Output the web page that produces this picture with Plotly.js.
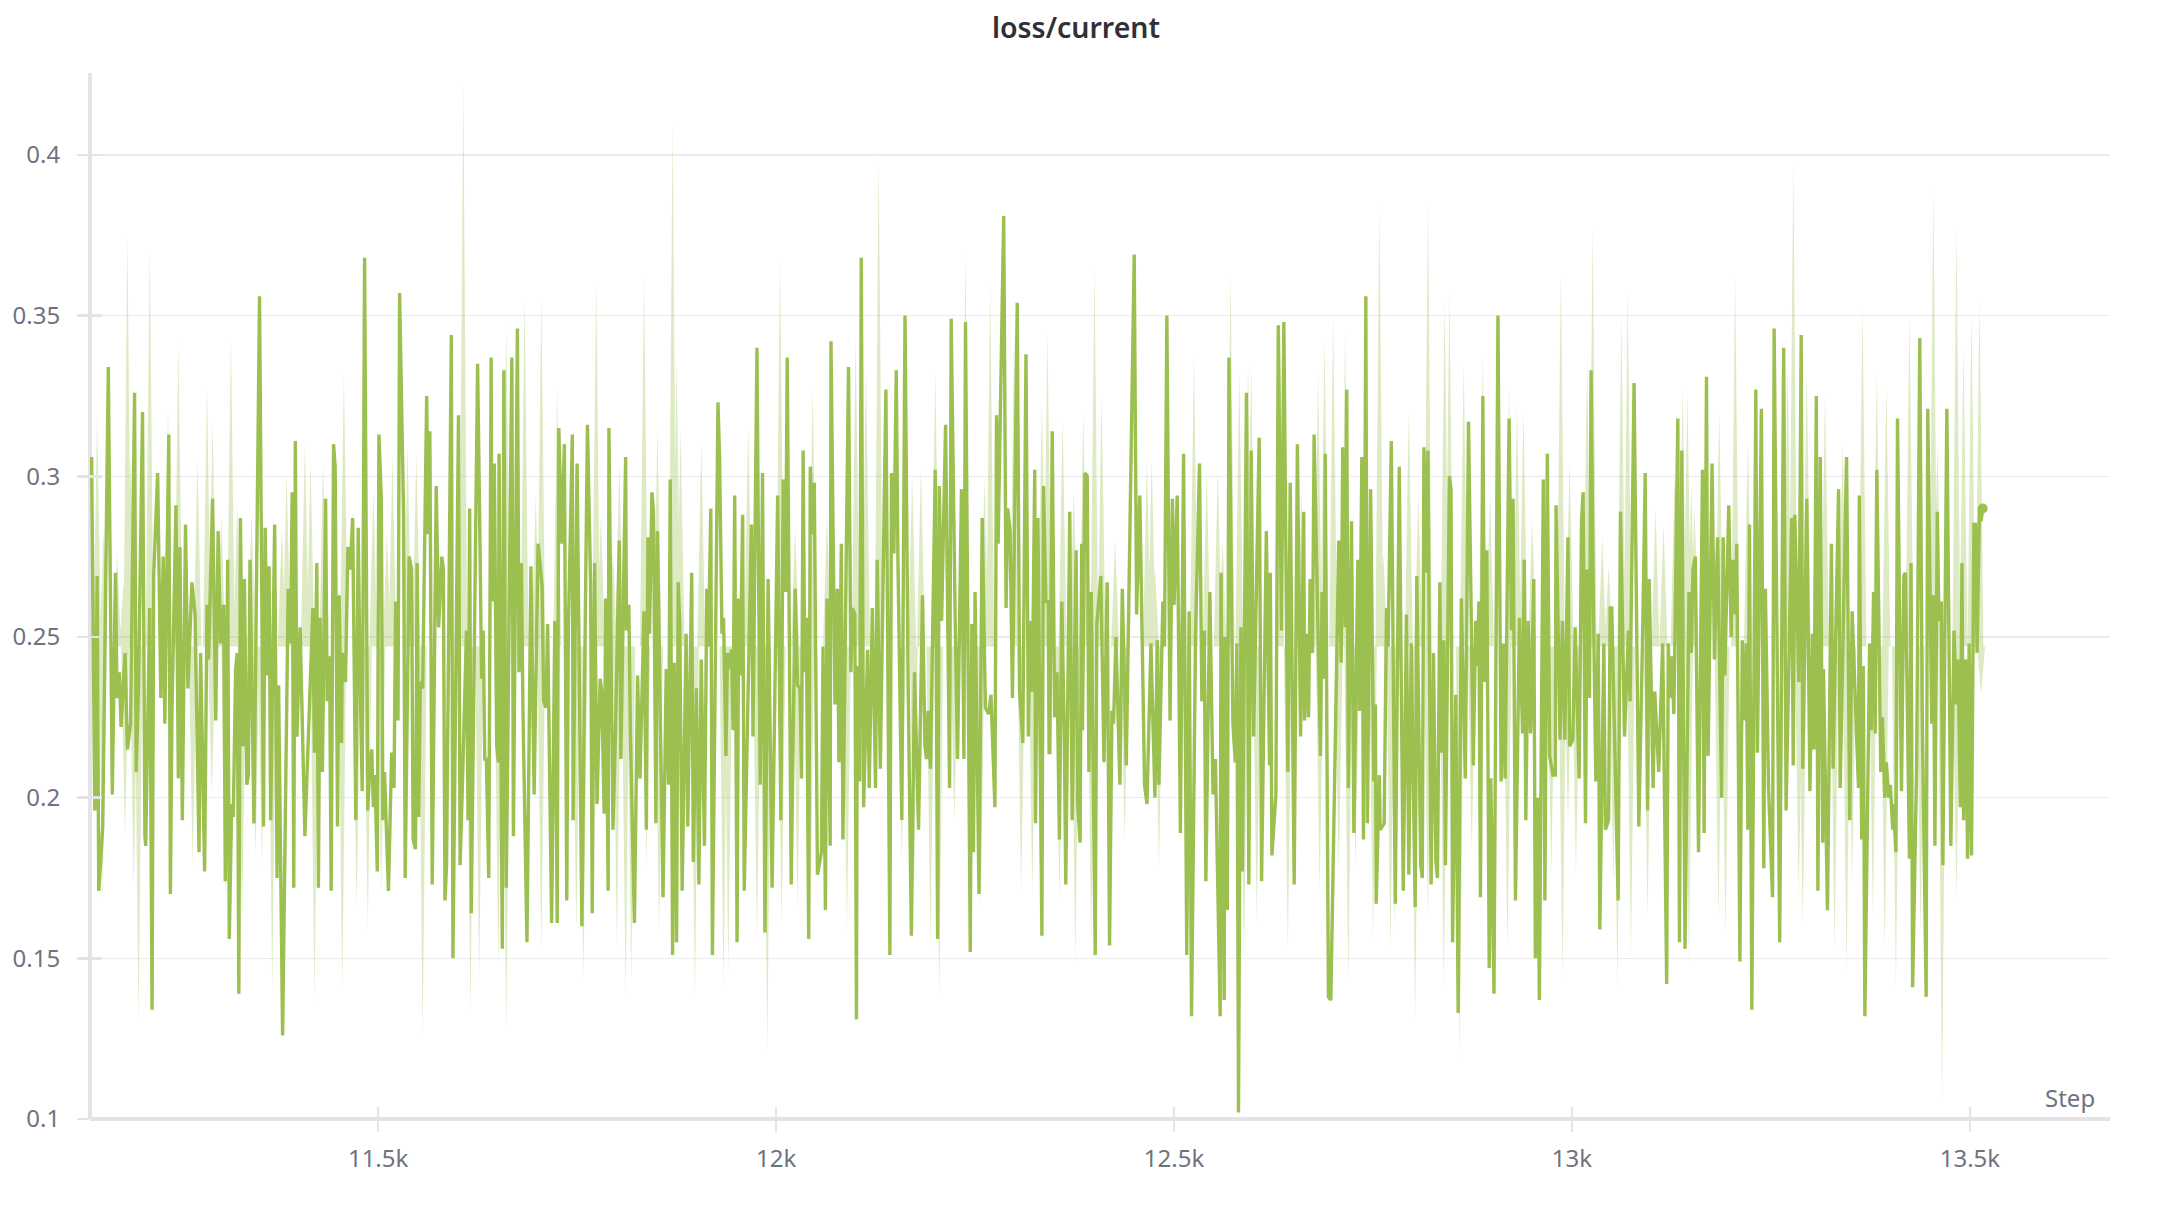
<!DOCTYPE html>
<html>
<head>
<meta charset="utf-8">
<script src="https://cdn.plot.ly/plotly-3.0.1.min.js"></script>
<style>html,body{margin:0;padding:0;background:#fff}#chart{width:2180px;height:1206px}</style>
</head>
<body>
<div id="chart"></div>
<script>
const chartTitle = "loss/current";
const xLabel = "Step";
const xTicks = [11500, 12000, 12500, 13000, 13500];
const xTickText = ["11.5k", "12k", "12.5k", "13k", "13.5k"];
const yTicks = [0.1, 0.15, 0.2, 0.25, 0.3, 0.35, 0.4];
const yTickText = ["0.1", "0.15", "0.2", "0.25", "0.3", "0.35", "0.4"];

const steps = [
11140,11144,11147,11149,11154,11161,11166,11170,11172,11175,
11177,11180,11182,11185,11189,11194,11196,11199,11204,11207,
11208,11213,11216,11218,11223,11227,11230,11232,11237,11239,
11241,11246,11249,11251,11254,11258,11261,11266,11270,11275,
11277,11282,11285,11287,11292,11296,11299,11302,11306,11308,
11311,11313,11316,11318,11321,11323,11325,11327,11330,11332,
11335,11337,11339,11344,11351,11356,11358,11361,11363,11365,
11370,11373,11375,11380,11387,11390,11392,11394,11396,11398,
11402,11408,11418,11420,11423,11425,11427,11430,11434,11436,11439,
11441,11444,11446,11449,11451,11454,11455,11459,11462,11465,
11468,11472,11475,11477,11480,11483,11487,11490,11492,11494,
11496,11499,11501,11504,11506,11508,11513,11517,11520,11522,
11525,11527,11532,11534,11539,11542,11544,11547,11549,11551,
11553,11556,11561,11563,11565,11568,11573,11576,11580,11582,
11584,11586,11592,11594,11601,11603,11606,11611,11613,11615,
11617,11625,11628,11630,11632,11634,11636,11639,11642,11643,
11646,11649,11651,11652,11656,11658,11661,11668,11670,11675,
11677,11680,11682,11687,11692,11696,11701,11706,11708,11711,
11713,11718,11722,11725,11727,11731,11734,11737,11739,
11744,11745,11750,11756,11763,11767,11769,11772,11775,11779,
11781,11784,11786,11789,11790,11795,11798,11803,11805,11811,
11812,11815,11817,11822,11826,11829,11834,11837,11839,11841,
11844,11846,11849,11851,11858,11862,11865,11867,11870,11872,
11875,11877,11879,11882,11887,11889,11894,11896,11900,11903,
11906,11910,11913,11915,11918,11920,11927,11929,11932,11934,
11937,11939,11941,11944,11946,11948,11951,11953,11955,11958,
11960,11969,11971,11976,11980,11983,11986,11990,11995,12002,
12006,12009,12012,12014,12019,12024,12027,12030,12032,12034,
12036,12038,12041,
12043,12046,12048,12052,12057,12059,12062,12064,12068,12069,
12074,12077,12079,12082,12084,12091,12094,12096,12099,12101,
12102,12105,12107,12110,12115,12117,12121,12125,12127,12131,
12138,12143,12145,12148,12151,12153,12158,12162,12166,12170,
12174,12179,12184,12187,12189,12191,12194,12200,12203,12205,
12208,12213,12218,12220,12225,12227,12228,12233,12236,12238,
12244,12246,12248,12250,12255,12259,12263,12267,12270,12275,
12277,12279,12286,12289,12291,12294,12297,12303,12306,12310,
12314,12317,12319,12322,12325,12326,12329,12334,12336,12339,
12342,12343,
12344,12347,12350,12353,12356,12359,12362,12364,12369,12372,
12377,12379,12382,12384,12385,12388,12391,12393,12396,12401,
12403,12408,12412,12416,12419,12422,12424,12427,12432,12435,
12440,12450,12453,12457,12463,12466,12471,12476,12479,12481,
12486,12488,12491,12495,12498,12500,12504,12508,12512,12516,
12519,12522,12527,12532,12535,12538,12540,12545,12549,12552,
12558,12559,12563,12564,12567,12569,12574,12577,12579,12581,
12584,12586,12591,12594,12597,12600,12607,12610,12616,12620,
12621,12623,12628,12631,12635,12638,12643,
12646,12651,12655,12659,12663,12664,12667,12669,12671,12674,
12676,12684,12686,12689,12690,12694,12697,12707,12710,12712,
12715,12717,12719,12723,12726,12731,12733,12736,12738,12741,
12743,12747,12751,12753,12754,12758,12759,12764,12767,12769,
12773,12778,12783,12788,12792,12795,12798,12803,12805,12810,
12812,12814,12817,12819,12823,12826,12829,12831,12834,12836,
12839,12841,12846,12848,12850,12854,12857,12861,12866,12870,
12876,12879,12881,12883,12885,12888,12890,12893,12896,12898,
12902,12907,12911,12914,12916,12921,12924,12926,12929,12934,
12938,12940,12942,12945,
12948,12952,12954,12957,12959,12964,12966,12969,12972,12976,
12979,12980,12985,12988,12991,12993,12995,12997,13001,13004,
13009,13012,13014,13017,13019,13022,13024,13027,13030,13033,
13035,13040,13042,13046,13048,13050,13058,13061,13066,13071,
13073,13078,13084,13089,13092,13095,13097,13102,13104,13109,
13114,13119,13121,13123,13125,13128,13133,13135,13138,13142,
13147,13150,13152,13155,13159,13164,13166,13169,13171,13176,
13179,13183,13185,13188,13190,13192,13197,13200,13202,13205,
13207,13211,13214,13216,13219,13221,13223,13226,13231,13233,
13238,13241,13243,13247,
13252,13254,13259,13261,13266,13269,13276,13278,13280,13285,
13288,13290,13295,13299,13302,13304,13307,13309,13312,13315,
13316,13321,13326,13328,13335,13337,13345,13349,13352,13360,
13361,13364,13366,13368,13374,13376,13379,13381,13383,13388,
13390,13393,13395,13398,13400,13403,13404,13407,13409,13414,
13417,13419,13424,13426,13428,13433,13437,13440,13445,13447,
13452,13454,13456,13459,13461,13464,13466,13471,13476,13480,
13483,13485,13488,13490,13492,13495,13497,13499,13502,13505,
13507,13509,13512,13514,13516
];

const loss = [
.306,.196,.269,.171,.191,.334,.201,.270,.231,.239,
.222,.237,.245,.215,.223,.326,.208,.235,.320,.188,
.185,.259,.134,.269,.301,.231,.275,.223,.313,.170,
.227,.291,.206,.278,.193,.285,.234,.267,.257,.183,
.245,.177,.260,.243,.293,.224,.283,.248,.260,.174,
.274,.156,.198,.194,.240,.245,.139,.287,.216,.268,
.204,.207,.274,.192,.356,.191,.284,.238,.272,.193,
.285,.175,.235,.126,.265,.248,.295,.172,.311,.219,
.253,.188,.259,.214,.273,.172,.256,.208,.293,.230,.244,
.171,.310,.303,.191,.263,.217,.245,.236,.278,.271,
.287,.193,.284,.242,.202,.368,.196,.212,.215,.197,
.207,.177,.313,.293,.193,.208,.171,.214,.203,.261,
.224,.357,.288,.175,.275,.271,.187,.184,.273,.194,
.236,.234,.325,.282,.314,.173,.297,.253,.275,.271,
.168,.179,.344,.150,.319,.179,.205,.252,.193,.290,
.164,.335,.279,.237,.252,.212,.212,.175,.337,.261,
.304,.216,.211,.307,.153,.333,.172,.337,.188,.346,
.239,.273,.227,.155,.272,.201,.279,.266,.230,.228,
.254,.161,.255,.161,.315,.279,.310,.168,.252,
.313,.193,.304,.160,.316,.266,.164,.273,.198,.237,
.233,.195,.262,.171,.315,.190,.218,.280,.212,.306,
.252,.260,.220,.161,.238,.206,.258,.190,.281,.251,
.295,.289,.192,.283,.169,.240,.204,.299,.151,.242,
.155,.267,.254,.171,.251,.191,.270,.180,.234,.173,
.243,.185,.265,.247,.290,.151,.323,.306,.251,.256,
.213,.245,.240,.246,.221,.294,.155,.262,.238,.288,
.171,.285,.219,.340,.204,.301,.158,.268,.172,.294,
.193,.299,.264,.337,.173,.265,.235,.234,.206,.308,
.239,.256,.156,
.303,.282,.298,.176,.183,.247,.165,.262,.185,.342,
.229,.265,.211,.279,.187,.334,.239,.259,.257,.131,
.241,.205,.368,.197,.246,.203,.259,.203,.274,.209,
.327,.151,.301,.276,.333,.276,.193,.350,.234,.157,
.239,.190,.263,.216,.212,.227,.209,.302,.156,.297,
.255,.316,.203,.349,.256,.223,.212,.296,.212,.348,
.152,.254,.183,.264,.170,.287,.228,.226,.232,.197,
.319,.279,.381,.259,.290,.283,.231,.354,.233,.217,
.338,.219,.255,.233,.302,.192,.287,.157,.297,.261,
.261,.214,
.214,.314,.225,.239,.187,.261,.222,.173,.289,.193,
.277,.198,.186,.279,.221,.301,.300,.208,.264,.151,
.254,.269,.211,.267,.154,.227,.223,.250,.204,.265,
.210,.369,.257,.294,.204,.198,.248,.200,.249,.204,
.261,.247,.350,.224,.293,.260,.294,.189,.307,.151,
.258,.132,.250,.304,.230,.252,.174,.264,.201,.212,
.132,.270,.137,.250,.165,.337,.223,.211,.248,.102,
.253,.177,.326,.173,.308,.219,.312,.174,.283,.210,
.270,.182,.201,.347,.252,.348,.208,
.298,.173,.310,.219,.289,.224,.251,.225,.268,.245,
.313,.213,.264,.237,.307,.138,.137,.280,.242,.309,
.253,.327,.203,.286,.189,.274,.227,.306,.187,.356,
.192,.296,.205,.229,.167,.207,.190,.192,.259,.247,
.311,.167,.303,.171,.257,.176,.248,.166,.269,.179,
.175,.309,.270,.308,.173,.245,.180,.175,.267,.214,
.249,.179,.300,.296,.155,.232,.133,.262,.206,.317,
.210,.255,.241,.261,.169,.325,.236,.277,.147,.206,
.139,.350,.205,.248,.206,.318,.252,.293,.168,.256,
.220,.274,.193,.255,
.220,.268,.150,.200,.137,.299,.168,.307,.213,.207,
.207,.291,.218,.255,.218,.243,.281,.216,.218,.253,
.206,.286,.295,.192,.271,.231,.333,.259,.205,.251,
.159,.248,.190,.193,.259,.259,.168,.289,.219,.252,
.230,.329,.191,.254,.301,.196,.268,.203,.233,.208,
.248,.142,.248,.231,.244,.226,.318,.155,.308,.153,
.264,.245,.271,.275,.183,.302,.189,.331,.213,.304,
.243,.281,.248,.200,.281,.238,.291,.250,.274,.257,
.279,.149,.249,.224,.248,.190,.285,.134,.327,.214,
.321,.178,.265,.203,
.169,.346,.212,.155,.340,.196,.287,.210,.288,.236,
.344,.209,.293,.202,.251,.215,.325,.171,.306,.186,
.240,.165,.279,.209,.296,.203,.306,.193,.258,.203,
.294,.187,.241,.132,.248,.221,.264,.220,.302,.208,
.225,.200,.211,.200,.204,.190,.198,.183,.318,.202,
.269,.270,.181,.273,.141,.209,.343,.228,.138,.321,
.223,.263,.185,.289,.255,.261,.179,.321,.185,.252,
.229,.243,.197,.273,.193,.243,.181,.248,.182,.285,
.285,.245,.290,.286,.290
];

// Faint band: peak values of the pale envelope above the line
const bandTopSteps = [
11147,11155,11172,11180,11185,11189,11213,11236,11249,11273,11285,11292,11303,11315,11323,11341,11379,11385,11408,11415,11431,
11457,11494,11511,11518,11537,11548,11607,11661,11684,11698,11705,11725,
11774,11780,11795,11803,11834,11851,11870,11875,11880,11906,11965,12005,12024,
12046,12064,12100,12113,12129,12171,12182,12200,12238,12262,12269,12299,12334,12341,
12360,12374,12386,12400,12409,12426,12466,12472,12476,12525,12541,12555,12561,12571,12582,12593,12597,12633,
12660,12681,12689,12700,12715,12758,12763,12795,12807,12819,12840,12846,12864,12888,12897,12921,12931,12939,
12950,12986,12997,13019,13026,13038,13046,13062,13070,13105,13115,13129,13139,13145,13150,13154,13185,13205,13221,
13271,13278,13295,13318,13340,13365,13383,13395,13424,13454,13459,13483,13492,13502,13512
];
const bandTop = [
.319,.283,.276,.267,.375,.307,.371,.321,.342,.305,.328,.317,.288,.344,.291,.288,.284,.301,.311,.305,.305,
.332,.296,.283,.306,.310,.307,.423,.347,.356,.294,.356,.328,
.361,.288,.277,.304,.362,.315,.410,.336,.315,.311,.316,.368,.284,
.327,.288,.344,.334,.400,.300,.303,.333,.369,.300,.360,.345,.323,.345,
.318,.296,.320,.365,.325,.280,.305,.306,.272,.338,.301,.302,.280,.364,.333,.335,.335,.351,
.295,.332,.343,.350,.345,.384,.276,.321,.294,.385,.355,.357,.336,.338,.294,.328,.322,.321,
.287,.364,.304,.337,.377,.281,.272,.350,.358,.290,.285,.301,.328,.326,.297,.291,.321,.362,.311,
.335,.399,.333,.326,.311,.353,.332,.329,.351,.390,.311,.377,.340,.351,.355
];
// Faint band: trough values of the pale envelope below the line
const bandLowSteps = [
11154,11182,11193,11199,11267,11291,11308,11329,11346,11354,11367,11420,
11455,11473,11487,11504,11556,11616,11627,11651,11661,11705,
11749,11758,11800,11811,11818,11837,11853,11898,11934,11940,11976,11989,12007,12027,
12043,12089,12158,12173,12194,12205,12224,12257,12308,12322,
12356,12376,12396,12438,12481,12588,12604,12643,
12683,12707,12719,12728,12750,12772,12777,12803,12819,12839,12859,12874,12919,
12974,12988,12995,13005,13052,13057,13074,13095,13147,13184,13193,
13285,13290,13330,13345,13352,13378,13393,13407,13438,13465,13483,13514
];
const bandLow = [
.168,.188,.172,.130,.179,.201,.168,.160,.182,.179,.139,.136,
.140,.165,.159,.170,.125,.132,.144,.147,.127,.152,
.158,.143,.154,.138,.143,.179,.157,.137,.141,.146,.156,.121,.160,.165,
.163,.159,.180,.169,.154,.138,.192,.165,.171,.171,
.168,.149,.156,.187,.178,.148,.161,.152,
.171,.177,.142,.179,.156,.152,.159,.130,.162,.141,.119,.183,.152,
.176,.144,.192,.176,.173,.141,.151,.162,.148,.162,.157,
.169,.160,.152,.146,.174,.164,.152,.141,.157,.105,.168,.232
];
const bandBase = 0.247;

const lineColor = "#9bc050";
const axisColor = "#e3e3e8";
const gridColor = "#ececee";
const textColor = "#70737f";
const fontFamily = '"Noto Sans", sans-serif';

function spikes(sx, sy, base, half) {
  const x = [], y = [];
  sx.forEach((s, i) => { x.push(s - half, s, s + half); y.push(base, sy[i], base); });
  return {x, y};
}
const up = spikes(bandTopSteps, bandTop, bandBase, 5);
const lo = spikes(bandLowSteps, bandLow, bandBase, 5);
const bandX = up.x.concat(lo.x.slice().reverse());
const bandY = up.y.concat(lo.y.slice().reverse());

const xRange = [11138, 13676];
const yRange = [0.1, 0.4255];

const traces = [
  {type: "scatter", mode: "lines", x: bandX, y: bandY, fill: "toself",
   fillcolor: "rgba(155,192,80,0.34)", line: {width: 0}, hoverinfo: "skip", showlegend: false},
  {type: "scatter", mode: "lines", x: steps, y: loss, name: "loss/current",
   line: {color: lineColor, width: 3.4}, showlegend: false},
  {type: "scatter", mode: "markers", xaxis: "x2", yaxis: "y2",
   x: [steps[steps.length - 1]], y: [loss[loss.length - 1]],
   marker: {color: lineColor, size: 10}, showlegend: false}
];

const layout = {
  width: 2180, height: 1206,
  margin: {l: 90, r: 70, t: 73, b: 87},
  paper_bgcolor: "#ffffff", plot_bgcolor: "#ffffff",
  showlegend: false,
  font: {family: fontFamily, color: textColor, size: 24},
  title: {text: chartTitle, x: 1076 / 2180, xanchor: "center", y: 1 - 28 / 1206, yanchor: "middle",
          font: {family: fontFamily, size: 28.5, color: "#2f3136", weight: 600}},
  xaxis: {range: xRange, tickvals: xTicks, ticktext: xTickText, ticks: "outside", ticklen: 12, tickwidth: 2.5,
          tickcolor: axisColor, showline: false, showgrid: false,
          zeroline: false, tickfont: {size: 24, color: textColor}, ticklabelstandoff: 6},
  yaxis: {range: yRange, tickvals: yTicks, ticktext: yTickText, ticks: "outside", ticklen: 12, tickwidth: 2.5,
          tickcolor: axisColor, showline: false, showgrid: true,
          gridcolor: gridColor, gridwidth: 1.5, zeroline: false, tickfont: {size: 24, color: textColor}, ticklabelstandoff: 12},
  xaxis2: {range: xRange, overlaying: "x", anchor: "y2", side: "bottom", tickvals: xTicks, ticktext: xTickText,
           showticklabels: false, ticks: "inside", ticklen: 12, tickwidth: 2.5, tickcolor: axisColor,
           showline: false, showgrid: false, zeroline: false},
  yaxis2: {range: yRange, overlaying: "y", anchor: "x2", side: "left", tickvals: yTicks, ticktext: yTickText,
           showticklabels: false, ticks: "inside", ticklen: 12, tickwidth: 2.5, tickcolor: axisColor,
           showline: false, showgrid: false, zeroline: false},
  shapes: [
    {type: "line", xref: "paper", yref: "paper", x0: 0, x1: 0, y0: 0, y1: 1, line: {color: axisColor, width: 4}, layer: "below"},
    {type: "line", xref: "paper", yref: "paper", x0: 0, x1: 1, y0: 0, y1: 0, line: {color: axisColor, width: 4}, layer: "below"}
  ],
  annotations: [{text: xLabel, xref: "paper", yref: "paper", x: (2097 - 90) / 2020, y: (1119 - 1097) / 1046,
                 xanchor: "right", yanchor: "middle", showarrow: false, font: {size: 24, color: textColor}}]
};

Plotly.newPlot("chart", traces, layout, {displayModeBar: false, staticPlot: true});
</script>
</body>
</html>
